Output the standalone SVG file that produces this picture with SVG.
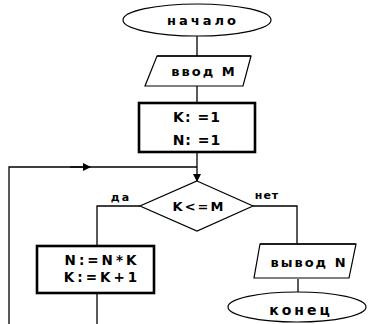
<svg xmlns="http://www.w3.org/2000/svg" width="368" height="324" viewBox="0 0 368 324">
<defs>
<style>
.ln{fill:none;stroke:#000;stroke-width:1.3}
.sh{fill:#fff;stroke:#000;stroke-width:1.2}
.bx{fill:#fff;stroke:#000;stroke-width:2.6}
.t{font-family:"DejaVu Sans",sans-serif;font-weight:bold;fill:#000;text-anchor:middle;dominant-baseline:central}
</style>
<marker id="ar" viewBox="0 0 8 8" refX="7" refY="4" markerWidth="8" markerHeight="8" markerUnits="userSpaceOnUse" orient="auto">
<path d="M0,0 L8,4 L0,8 Z" fill="#000"/>
</marker>
</defs>
<g id="connectors">
<path class="ln" d="M197,36 V56"/>
<path class="ln" d="M197,86 V103"/>
<path class="ln" d="M197,152 V181" marker-end="url(#ar)"/>
<path class="ln" d="M9,324 V167 H197"/>
<path class="ln" d="M70,167 H90" marker-end="url(#ar)"/>
<path class="ln" d="M140,206 H97 V246"/>
<path class="ln" d="M97,293 V324"/>
<path class="ln" d="M253,206 H297 V244"/>
<path class="ln" d="M298,279 V292"/>
<text class="t" x="121" y="197" font-size="11" letter-spacing="2">да</text>
<text class="t" x="267" y="195" font-size="11" letter-spacing="1">нет</text>
</g>
<g id="start">
<ellipse class="sh" cx="197" cy="20" rx="74" ry="16"/>
<text class="t" x="203" y="20" font-size="13" letter-spacing="3">начало</text>
</g>
<g id="input">
<polygon class="sh" points="157,56 251,56 243,86 145,86"/>
<path class="ln" d="M157,56 H251" stroke-width="2"/>
<text class="t" x="204" y="71" font-size="13" letter-spacing="2">ввод  M</text>
</g>
<g id="init">
<rect class="bx" x="139" y="103" width="116" height="49"/>
<text class="t" x="197" y="117" font-size="14" letter-spacing="1">K: =1</text>
<text class="t" x="197" y="140" font-size="14" letter-spacing="1">N: =1</text>
</g>
<g id="cond">
<polygon class="sh" points="197,181 253,206 197,231 140,206"/>
<text class="t" x="199" y="206" font-size="13" letter-spacing="2">K&lt;=M</text>
</g>
<g id="body">
<rect class="bx" x="37" y="246" width="117" height="47"/>
<text class="t" x="102" y="260" font-size="13.5" letter-spacing="3">N:=N*K</text>
<text class="t" x="102" y="277" font-size="13.5" letter-spacing="3">K:=K+1</text>
</g>
<g id="output">
<polygon class="sh" points="260,244 356,244 349,278 254,278"/>
<path class="ln" d="M260,244 H356" stroke-width="2"/>
<text class="t" x="309" y="262" font-size="13" letter-spacing="2">вывод  N</text>
</g>
<g id="end">
<ellipse class="sh" cx="297" cy="307" rx="69" ry="15"/>
<text class="t" x="301" y="310" font-size="14" letter-spacing="3">конец</text>
</g>
</svg>
